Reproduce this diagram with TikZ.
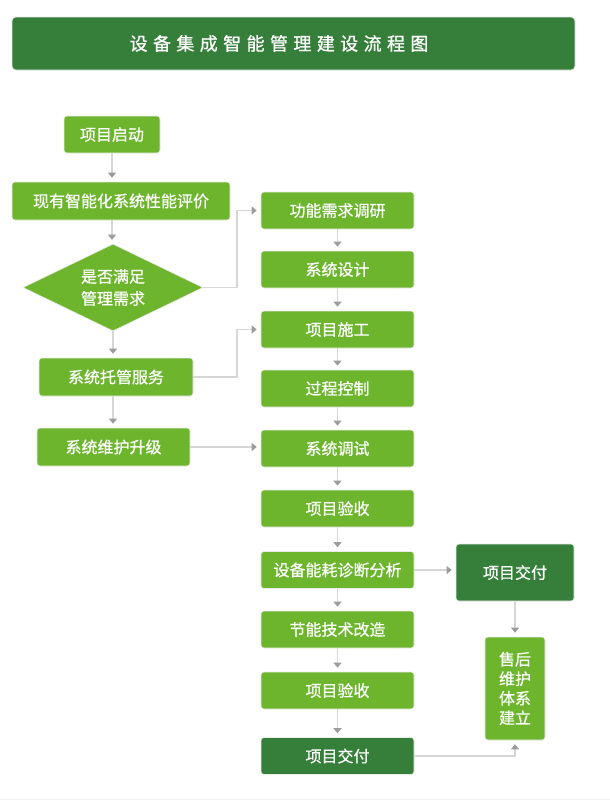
\documentclass[tikz,border=0pt]{standalone}
\usepackage{fontspec}
\setmainfont{Noto Sans CJK SC}
\newfontfamily\boxfont[FakeBold=0.7]{Noto Sans CJK SC}
\newfontfamily\titlefont[LetterSpace=30, FakeBold=0.9]{Noto Sans CJK SC}
\usepackage{tikz}
\usetikzlibrary{positioning, arrows.meta, shapes.geometric}
\definecolor{lightgreen}{HTML}{6CB52D}
\definecolor{darkgreen}{HTML}{367F3B}
\definecolor{linegray}{HTML}{D6D6D6}
\definecolor{tipgray}{HTML}{9C9C9C}

\begin{document}
\begin{tikzpicture}[x=1pt, y=-1pt,
    box/.style={fill=lightgreen, draw=black!8, line width=0.6pt, rounded corners=3pt,
        text=white, inner sep=0pt, align=center, font=\boxfont\fontsize{16}{19.5}\selectfont},
    darkbox/.style={box, fill=darkgreen},
    colbox/.style={box, minimum width=153pt, minimum height=37pt},
    flow/.style={draw=linegray, line width=1.2pt, shorten >=4pt,
        -{Triangle[width=8pt, length=5pt, color=tipgray]}}]
    \useasboundingbox (0,0) rectangle (610,801);
    \draw[black!6] (0,799.5) -- (610,799.5);
    % title
    \draw[fill=darkgreen, draw=black!10, line width=0.6pt, rounded corners=4pt] (12,17) rectangle (575,70);
    \node[text=white, font=\titlefont\fontsize{18}{18}\selectfont] (title) at (279,43.5) {设备集成智能管理建设流程图};
    % left column
    \node[box, minimum width=96pt, minimum height=37pt] (start) at (112,134.5) {项目启动};
    \node[box, minimum width=218pt, minimum height=38pt] (evaluate) at (121,201) {现有智能化系统性能评价};
    \node[diamond, aspect=2.07, fill=lightgreen, draw=black!8, line width=0.6pt, text=white,
        inner sep=0pt, align=center, font=\boxfont\fontsize{16}{19.5}\selectfont,
        minimum width=180pt, minimum height=87pt] (judge) at (113,287.5) {是否满足\\[2.5pt]管理需求};
    \node[box, minimum width=154pt, minimum height=38pt] (host) at (116,377) {系统托管服务};
    \node[box, minimum width=153pt, minimum height=38pt] (upgrade) at (113.5,447) {系统维护升级};
    % right column
    \node[colbox] (research) at (337.5,210.5) {功能需求调研};
    \node[colbox] (design) at (337.5,269.5) {系统设计};
    \node[colbox] (build) at (337.5,329.5) {项目施工};
    \node[colbox] (control) at (337.5,388.5) {过程控制};
    \node[colbox] (debug) at (337.5,448.5) {系统调试};
    \node[colbox] (accept) at (337.5,508.5) {项目验收};
    \node[colbox] (diagnose) at (337.5,570) {设备能耗诊断分析};
    \node[colbox] (retrofit) at (337.5,629.5) {节能技术改造};
    \node[colbox] (accept2) at (337.5,690.5) {项目验收};
    \node[colbox, darkbox] (deliver) at (337.5,756) {项目交付};
    % far right
    \node[darkbox, minimum width=118pt, minimum height=57pt] (deliverR) at (515,572.5) {项目交付};
    \node[box, minimum width=60pt, minimum height=103pt] (after) at (515,688.5) {售后\\维护\\体系\\建立};
    \coordinate (bend) at (237,0);
    % connectors
    \draw[flow] (start) -- (start |- evaluate.north);
    \draw[flow] (evaluate.south -| start) -- (start |- judge.north);
    \draw[flow] (judge) -- (judge |- host.north);
    \draw[flow] (judge |- host.south) -- (judge |- upgrade.north);
    \draw[flow] (judge.east) -- (judge.east -| bend) |- (research.west);
    \draw[flow] (host.east) -- (host.east -| bend) |- (build.west);
    \draw[flow] (upgrade.east) -- (upgrade.east -| debug.west);
    \draw[flow] (research) -- (design);
    \draw[flow] (design) -- (build);
    \draw[flow] (build) -- (control);
    \draw[flow] (control) -- (debug);
    \draw[flow] (debug) -- (accept);
    \draw[flow] (accept) -- (diagnose);
    \draw[flow] (diagnose) -- (retrofit);
    \draw[flow] (retrofit) -- (accept2);
    \draw[flow] (accept2) -- (deliver);
    \draw[flow] (diagnose.east) -- (diagnose.east -| deliverR.west);
    \draw[flow] (deliverR) -- (after);
    \draw[flow] (deliver.east) -| (after.south);
\end{tikzpicture}
\end{document}
